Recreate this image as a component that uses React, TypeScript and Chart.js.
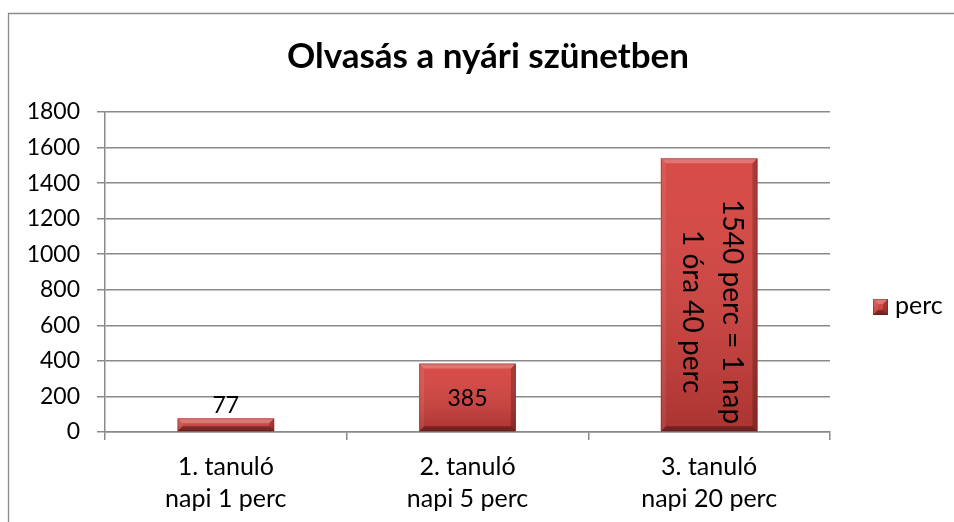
import React, { useEffect, useRef } from "react";
import { Chart, registerables } from "chart.js";

Chart.register(...registerables);

const chartTitle = "Olvasás a nyári szünetben";
const seriesName = "perc";
const categories: string[][] = [
  ["1. tanuló", "napi 1 perc"],
  ["2. tanuló", "napi 5 perc"],
  ["3. tanuló", "napi 20 perc"],
];
const values: number[] = [77, 385, 1540];
const valueLabels: string[][] = [["77"], ["385"], ["1540 perc = 1 nap", "1 óra 40 perc"]];
const yMin = 0;
const yMax = 1800;
const yStep = 200;

const FONT = "Lato, 'Liberation Sans', sans-serif";
const GRID = "#8a8a8a";
const BAR = "#d5403c";

function drawBevel(ctx: CanvasRenderingContext2D, x0: number, y0: number, x1: number, y1: number) {
  const h = y1 - y0;
  const w = x1 - x0;
  const b = Math.min(5, h / 2, w / 2);
  const g = ctx.createLinearGradient(0, y0, 0, y1);
  g.addColorStop(0, "rgba(255,255,255,0.06)");
  g.addColorStop(1, "rgba(0,0,0,0.20)");
  ctx.fillStyle = g;
  ctx.fillRect(x0, y0, w, h);
  ctx.fillStyle = "rgba(255,255,255,0.24)";
  ctx.beginPath();
  ctx.moveTo(x0, y0); ctx.lineTo(x1, y0); ctx.lineTo(x1 - b, y0 + b); ctx.lineTo(x0 + b, y0 + b); ctx.closePath(); ctx.fill();
  ctx.fillStyle = "rgba(255,255,255,0.08)";
  ctx.beginPath();
  ctx.moveTo(x0, y0); ctx.lineTo(x0 + b, y0 + b); ctx.lineTo(x0 + b, y1 - b); ctx.lineTo(x0, y1); ctx.closePath(); ctx.fill();
  ctx.fillStyle = "rgba(0,0,0,0.22)";
  ctx.beginPath();
  ctx.moveTo(x1, y0); ctx.lineTo(x1, y1); ctx.lineTo(x1 - b, y1 - b); ctx.lineTo(x1 - b, y0 + b); ctx.closePath(); ctx.fill();
  ctx.fillStyle = "rgba(0,0,0,0.34)";
  ctx.beginPath();
  ctx.moveTo(x0, y1); ctx.lineTo(x1, y1); ctx.lineTo(x1 - b, y1 - b); ctx.lineTo(x0 + b, y1 - b); ctx.closePath(); ctx.fill();
  ctx.strokeStyle = "rgba(110,20,20,0.35)";
  ctx.lineWidth = 1;
  ctx.strokeRect(x0 + 0.5, y0 + 0.5, w - 1, h - 1);
}

const decorPlugin = {
  id: "decor",
  beforeDraw(chart: any) {
    const ctx = chart.ctx as CanvasRenderingContext2D;
    ctx.save();
    ctx.strokeStyle = "#8c8c8c";
    ctx.lineWidth = 1.3;
    ctx.beginPath();
    ctx.moveTo(8.5, chart.height + 2);
    ctx.lineTo(8.5, 13.5);
    ctx.lineTo(chart.width + 2, 13.5);
    ctx.stroke();
    ctx.fillStyle = "#000";
    ctx.font = `bold 35px ${FONT}`;
    ctx.textAlign = "center";
    ctx.textBaseline = "alphabetic";
    ctx.fillText(chartTitle, 488, 68);
    const ds = chart.data.datasets[0];
    ctx.fillStyle = BAR;
    ctx.fillRect(873, 299, 15, 16);
    drawBevel(ctx, 873, 299, 888, 315);
    ctx.fillStyle = "#000";
    ctx.font = `25px ${FONT}`;
    ctx.textAlign = "left";
    ctx.textBaseline = "middle";
    ctx.fillText(ds.label, 895, 306);
    ctx.restore();
  },
  afterDatasetsDraw(chart: any) {
    const ctx = chart.ctx as CanvasRenderingContext2D;
    const meta = chart.getDatasetMeta(0);
    ctx.save();
    meta.data.forEach((bar: any) => {
      const x0 = bar.x - bar.width / 2;
      const x1 = bar.x + bar.width / 2;
      const y0 = Math.min(bar.y, bar.base);
      const y1 = Math.max(bar.y, bar.base);
      drawBevel(ctx, x0, y0, x1, y1);
    });
    ctx.fillStyle = "#000";
    meta.data.forEach((bar: any, i: number) => {
      const lines = valueLabels[i];
      const top = Math.min(bar.y, bar.base);
      const base = Math.max(bar.y, bar.base);
      const h = base - top;
      if (lines.length > 1) {
        ctx.save();
        ctx.font = `28px ${FONT}`;
        ctx.textAlign = "center";
        ctx.textBaseline = "alphabetic";
        ctx.translate(bar.x, (top + base) / 2 + 17);
        ctx.rotate(Math.PI / 2);
        ctx.fillText(lines[0], 0, -14);
        ctx.fillText(lines[1], 0, 26);
        ctx.restore();
      } else {
        ctx.font = `23px ${FONT}`;
        ctx.textAlign = "center";
        ctx.textBaseline = "alphabetic";
        if (h < 30) {
          ctx.fillText(lines[0], bar.x, top - 5);
        } else {
          ctx.fillText(lines[0], bar.x, (top + base) / 2 + 8.5);
        }
      }
    });
    ctx.restore();
  },
};

export default function App() {
  const ref = useRef<HTMLCanvasElement | null>(null);
  useEffect(() => {
    if (!ref.current) return;
    Chart.defaults.font.family = FONT;
    Chart.defaults.color = "#000";
    const chart = new Chart(ref.current, {
      type: "bar",
      data: {
        labels: categories,
        datasets: [
          {
            label: seriesName,
            data: values,
            backgroundColor: BAR,
            borderWidth: 0,
            barPercentage: 0.4,
            categoryPercentage: 1,
          },
        ],
      },
      options: {
        responsive: false,
        animation: false,
        devicePixelRatio: 1,
        layout: { padding: { left: 0, top: 112, right: 124, bottom: 0 } },
        plugins: {
          legend: { display: false },
          title: { display: false },
          tooltip: { enabled: false },
        },
        scales: {
          x: {
            offset: true,
            grid: {
              offset: true,
              drawOnChartArea: false,
              drawTicks: true,
              tickLength: 8,
              color: GRID,
              lineWidth: 1.5,
            },
            border: { display: true, color: GRID, width: 1.5 },
            ticks: {
              font: { size: 25, lineHeight: "32px" } as any,
              color: "#000",
              padding: 11,
              maxRotation: 0,
              autoSkip: false,
            },
            afterFit(scale: any) {
              scale.height = 90;
            },
          },
          y: {
            min: yMin,
            max: yMax,
            ticks: {
              stepSize: yStep,
              font: { size: 23 },
              color: "#000",
              padding: 17,
              callback: (v: any) => String(v),
            },
            grid: {
              color: GRID,
              lineWidth: 1.5,
              tickLength: 8,
              drawTicks: true,
            },
            border: { display: true, color: GRID, width: 1.5 },
            afterFit(scale: any) {
              scale.width = 105;
            },
          },
        },
      },
      plugins: [decorPlugin],
    });
    return () => chart.destroy();
  }, []);
  return (
    <div style={{ position: "absolute", left: 0, top: 0, width: 954, height: 522, background: "#fff" }}>
      <canvas ref={ref} width={954} height={522} style={{ display: "block" }} />
    </div>
  );
}
